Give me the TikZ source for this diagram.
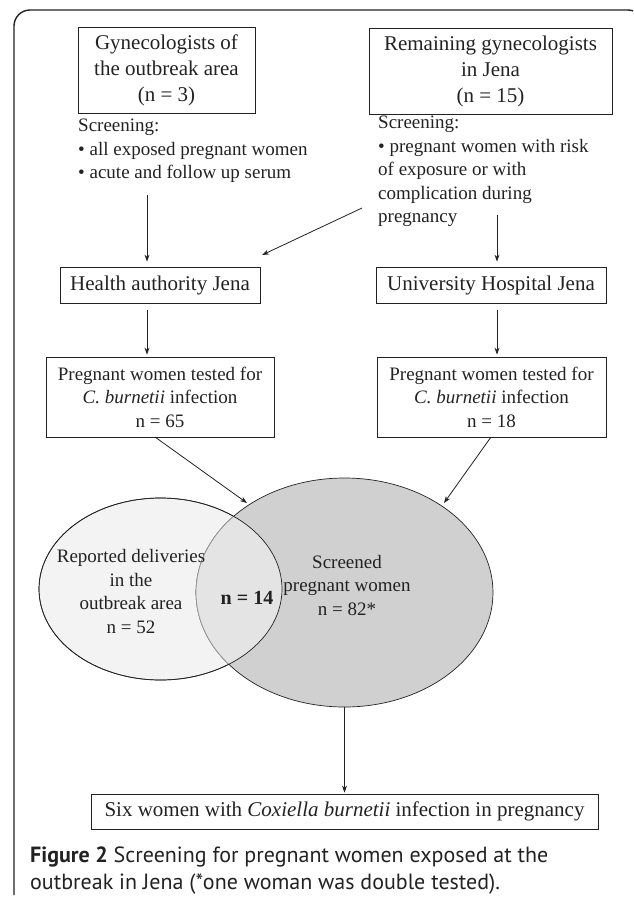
\documentclass[tikz,border=0pt]{standalone}
\usepackage{fontspec}
\setmainfont{Liberation Serif}
\newfontfamily\capfont{PT Sans}
\usetikzlibrary{shapes.geometric,arrows.meta}
\definecolor{ink}{HTML}{222222}
\definecolor{capink}{HTML}{222222}
\definecolor{lfill}{HTML}{F3F3F3}
\definecolor{ifill}{HTML}{E4E4E4}
\definecolor{bfill}{HTML}{D0D0D0}
\definecolor{innerline}{HTML}{9A9A9A}
\begin{document}
\begin{tikzpicture}[x=1pt,y=-1pt,
  box/.style={draw=ink, line width=0.8pt, inner sep=0pt, align=center, text=ink},
  bigtxt/.style={font=\fontsize{21}{26}\selectfont},
  smalltxt/.style={font=\fontsize{19}{23.5}\selectfont},
  arr/.style={draw=ink, line width=0.8pt, -{Stealth[length=7pt,width=5pt]}},
  venn/.style={ellipse, draw=ink, line width=0.7pt, inner sep=0pt}
]
\useasboundingbox (0,0) rectangle (633,898);
\clip (0,0) rectangle (633,898);
% frame
\draw[ink, line width=1.4pt, rounded corners=16pt] (14,895) -- (14,10) -- (644,10) -- (644,60);

% top boxes
\node[box,bigtxt,minimum width=177pt,minimum height=86pt] (g1) at (166.5,70) {Gynecologists of\\the outbreak area\\(n = 3)};
\node[box,bigtxt,minimum width=243pt,minimum height=86pt] (g2) at (490.5,71) {Remaining gynecologists\\in Jena\\(n = 15)};

% screening texts
\node[smalltxt,text=ink,align=left,anchor=west,inner sep=0pt] (s1) at (78,151) {Screening:\\\textbullet{} all exposed pregnant women\\\textbullet{} acute and follow up serum};
\node[smalltxt,text=ink,align=left,anchor=west,inner sep=0pt] (s2) at (378,171.5) {Screening:\\\textbullet{} pregnant women with risk\\of exposure or with\\complication during\\pregnancy};

% middle boxes
\node[box,bigtxt,minimum width=200pt,minimum height=36pt] (h1) at (160,285) {Health authority Jena};
\node[box,bigtxt,minimum width=230pt,minimum height=36pt] (h2) at (491,285) {University Hospital Jena};

\node[box,smalltxt,minimum width=228pt,minimum height=80pt] (p1) at (160,397) {Pregnant women tested for\\\textit{C. burnetii} infection\\n = 65};
\node[box,smalltxt,minimum width=229pt,minimum height=80pt] (p2) at (491.5,397) {Pregnant women tested for\\\textit{C. burnetii} infection\\n = 18};

% Venn
\node[venn,fill=lfill,minimum width=243pt,minimum height=182pt] (le) at (160.5,589) {};
\node[venn,fill=bfill,minimum width=297pt,minimum height=229pt] (be) at (344.5,592.5) {};
\begin{scope}
  \clip (160.5,589) ellipse [x radius=121.5pt, y radius=91pt];
  \fill[ifill] (344.5,592.5) ellipse [x radius=148.5pt, y radius=114.5pt];
  \draw[innerline, line width=0.7pt] (344.5,592.5) ellipse [x radius=148.5pt, y radius=114.5pt];
\end{scope}
\draw[ink, line width=0.7pt] (160.5,589) ellipse [x radius=121.5pt, y radius=91pt];

\node[smalltxt,text=ink,align=center] (lt) at (131,591.5) {Reported deliveries\\in the\\outbreak area\\n = 52};
\node[smalltxt,text=ink,align=center] (bt) at (347,585) {Screened\\pregnant women\\n = 82*};
\node[font=\fontsize{20}{24}\selectfont\bfseries,text=ink] (nt) at (247,598) {n = 14};

% result box
\node[box,bigtxt,minimum width=507pt,minimum height=35pt] (six) at (344.5,811.5) {Six women with \textit{Coxiella burnetii} infection in pregnancy};

% connectors
\coordinate (a1) at (147,195);
\coordinate (a2) at (362,208);
\coordinate (a2e) at (262,255);
\coordinate (a3) at (497,215);
\coordinate (a5) at (155,437);
\coordinate (a5e) at (247,503);
\coordinate (a6) at (491,437);
\coordinate (a6e) at (444,503);
\draw[arr, shorten >=5pt] (a1) -- (a1 |- h1.north);
\draw[arr] (a2) -- (a2e);
\draw[arr, shorten >=5pt] (a3) -- (a3 |- h2.north);
\draw[arr, shorten <=7pt, shorten >=2pt] (h1.south -| a1) -- (p1.north -| a1);
\draw[arr, shorten <=7pt, shorten >=2pt] (h2.south -| a3) -- (p2.north -| a3);
\draw[arr] (a5) -- (a5e);
\draw[arr] (a6) -- (a6e);
\draw[arr, shorten >=1pt] (be.south) -- (six.north -| be.south);

% caption
\node[anchor=west,inner sep=0pt,text=capink,font=\capfont\fontsize{22}{27}\selectfont] (cap1) at (30,857) {\textbf{Figure 2} Screening for pregnant women exposed at the};
\node[anchor=west,inner sep=0pt,text=capink,font=\capfont\fontsize{22}{27}\selectfont] (cap2) at (30,884) {outbreak in Jena (*one woman was double tested).};
\end{tikzpicture}
\end{document}
